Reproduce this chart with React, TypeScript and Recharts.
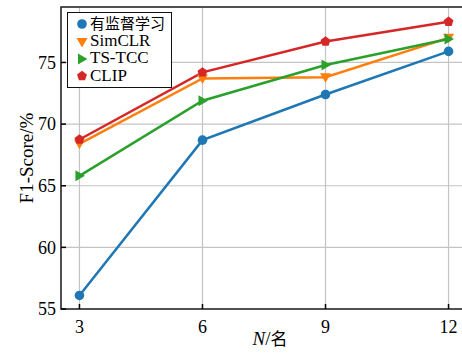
import { LineChart, Line, XAxis, YAxis, CartesianGrid, Legend, ReferenceArea } from 'recharts';

const nValues = [3, 6, 9, 12];
const supervised = [56.1, 68.7, 72.4, 75.9];
const simclr = [68.4, 73.7, 73.8, 77.0];
const tstcc = [65.8, 71.9, 74.8, 76.9];
const clip = [68.75, 74.2, 76.7, 78.3];
const yTicks = [55, 60, 65, 70, 75];

const SERIES = [
  { key: 'supervised', name: '有监督学习', color: '#1f77b4', shape: 'circle' },
  { key: 'simclr', name: 'SimCLR', color: '#ff7f0e', shape: 'down' },
  { key: 'tstcc', name: 'TS-TCC', color: '#2ca02c', shape: 'right' },
  { key: 'clip', name: 'CLIP', color: '#d62728', shape: 'pentagon' },
];

const data = nValues.map((n, i) => ({
  n,
  supervised: supervised[i],
  simclr: simclr[i],
  tstcc: tstcc[i],
  clip: clip[i],
}));

// Latin serif first, CJK glyphs fall back to Noto
const FONT = '"Liberation Serif", "Times New Roman", "Noto Sans CJK SC", serif';

function Marker({ cx, cy, color, shape }: { cx: number; cy: number; color: string; shape: string }) {
  if (shape === 'circle') return <circle cx={cx} cy={cy} r={4.8} fill={color} />;
  if (shape === 'down') {
    return <polygon points={`${cx - 5.5},${cy - 4} ${cx + 5.5},${cy - 4} ${cx},${cy + 5.5}`} fill={color} />;
  }
  if (shape === 'right') {
    return <polygon points={`${cx - 4},${cy - 5.5} ${cx - 4},${cy + 5.5} ${cx + 5.5},${cy}`} fill={color} />;
  }
  const pts = Array.from({ length: 5 }, (_, k) => {
    const a = -Math.PI / 2 + (k * 2 * Math.PI) / 5;
    return `${cx + 5.2 * Math.cos(a)},${cy + 5.2 * Math.sin(a)}`;
  }).join(' ');
  return <polygon points={pts} fill={color} />;
}

function LegendBox() {
  return (
    <div
      style={{
        border: '1.5px solid #111',
        background: '#fff',
        padding: '2px 6px 2px 6px',
        fontFamily: FONT,
        color: '#000',
      }}
    >
      {SERIES.map(s => (
        <div key={s.key} style={{ display: 'flex', alignItems: 'center', height: 17.4 }}>
          <svg width={16} height={17} style={{ flex: 'none' }}>
            <Marker cx={8} cy={9} color={s.color} shape={s.shape} />
          </svg>
          <span style={{ fontSize: s.key === 'supervised' ? 15 : 17, lineHeight: '16px', whiteSpace: 'nowrap' }}>
            {s.name}
          </span>
        </div>
      ))}
    </div>
  );
}

const YLabel = (props: any) => {
  const { viewBox } = props;
  const cx = 26;
  const cy = viewBox.y + viewBox.height / 2;
  return (
    <text x={cx} y={cy} transform={`rotate(-90, ${cx}, ${cy})`} textAnchor="middle" dominantBaseline="central"
      fontFamily={FONT} fontSize={19} fill="#000">
      F1-Score/%
    </text>
  );
};

const XLabel = (props: any) => {
  const { viewBox } = props;
  const cx = viewBox.x + viewBox.width / 2 + 6;
  return (
    <text x={cx} y={345} textAnchor="middle" fontFamily={FONT} fontSize={19} fill="#000">
      <tspan fontStyle="italic">N</tspan>
      <tspan>/</tspan>
      <tspan fontSize={17}>名</tspan>
    </text>
  );
};

export default function App() {
  return (
    <div style={{ position: 'absolute', left: 0, top: 0, width: 462, height: 357, overflow: 'hidden', background: '#fff' }}>
      <LineChart width={470} height={357} data={data} margin={{ top: 7, right: 3, bottom: 0, left: 0 }}>
        <CartesianGrid stroke="#c4c4c4" strokeWidth={1.2} />
        <XAxis
          dataKey="n"
          type="number"
          domain={[2.55, 12.45]}
          ticks={nValues}
          height={48}
          axisLine={false}
          tickSize={-5}
          tickMargin={16}
          tickLine={{ stroke: '#000', strokeWidth: 1.5 }}
          tick={{ fontFamily: FONT, fontSize: 18, fill: '#000' }}
          label={<XLabel />}
        />
        <YAxis
          type="number"
          domain={[55, 79.5]}
          ticks={yTicks}
          width={61}
          axisLine={false}
          tickSize={-5}
          tickMargin={10}
          tickLine={{ stroke: '#000', strokeWidth: 1.5 }}
          tick={{ fontFamily: FONT, fontSize: 18, fill: '#000' }}
          label={<YLabel />}
        />
        <ReferenceArea x1={2.55} x2={12.45} y1={55} y2={79.5} fill="none" stroke="#222" strokeWidth={1.5} ifOverflow="visible" />
        {SERIES.map(s => (
          <Line
            key={s.key}
            dataKey={s.key}
            name={s.name}
            stroke={s.color}
            strokeWidth={2.5}
            isAnimationActive={false}
            dot={(p: any) => <Marker key={`${s.key}-${p.index}`} cx={p.cx} cy={p.cy} color={s.color} shape={s.shape} />}
            activeDot={false}
          />
        ))}
        <Legend
          layout="vertical"
          verticalAlign="middle"
          align="center"
          content={() => <LegendBox />}
          wrapperStyle={{ left: 67, top: 12, width: 'auto', height: 'auto' }}
        />
      </LineChart>
    </div>
  );
}
